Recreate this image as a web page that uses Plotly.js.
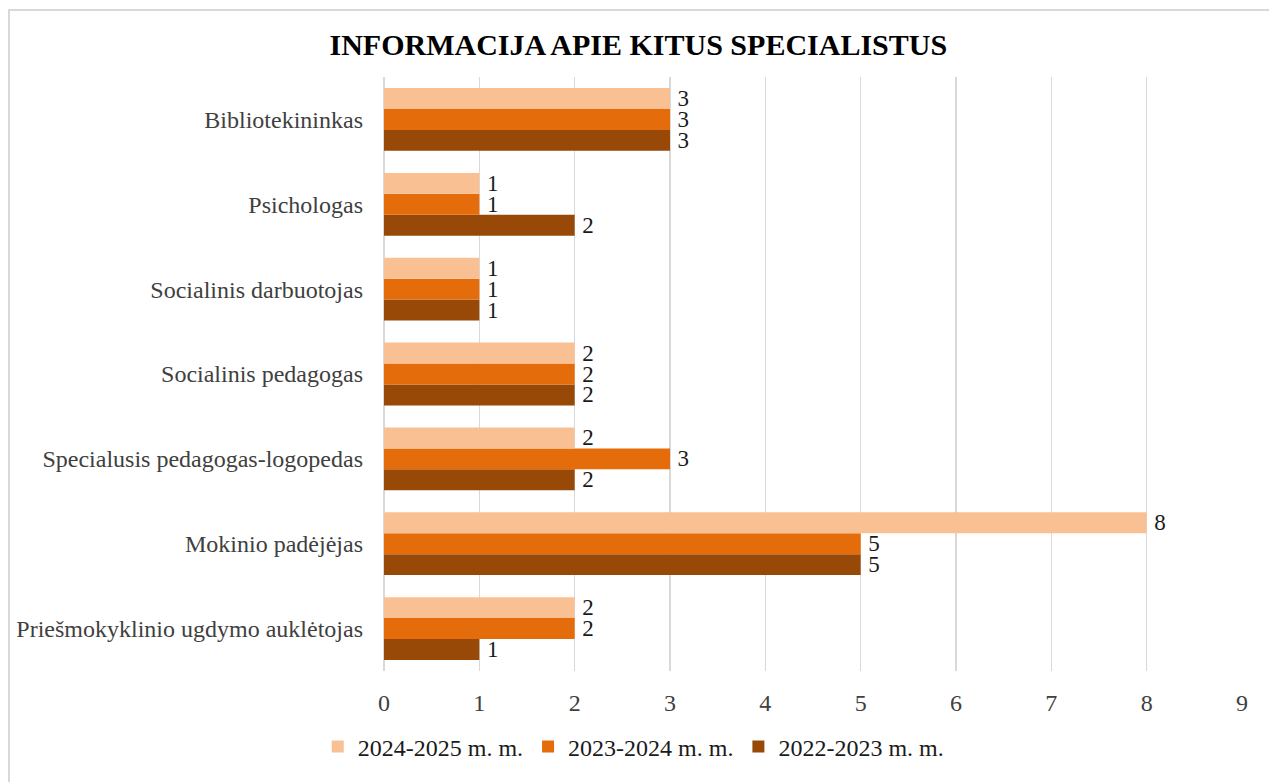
<!DOCTYPE html>
<html>
<head>
<meta charset="utf-8">
<script src="https://cdn.plot.ly/plotly-3.0.1.min.js"></script>
<style>
html,body{margin:0;padding:0;background:#fff;}
#chart{position:absolute;left:0;top:0;width:1269px;height:782px;}
#frame{position:absolute;left:8px;top:9px;width:1261px;height:773px;border-top:2px solid #d9d9d9;border-left:2px solid #d9d9d9;pointer-events:none;}
</style>
</head>
<body>
<div id="chart"></div>
<div id="frame"></div>
<script>
const categories = [
  "Bibliotekininkas",
  "Psichologas",
  "Socialinis darbuotojas",
  "Socialinis pedagogas",
  "Specialusis pedagogas-logopedas",
  "Mokinio padėjėjas",
  "Priešmokyklinio ugdymo auklėtojas"
];
const seriesNames = ["2024-2025 m. m.", "2023-2024 m. m.", "2022-2023 m. m."];
const values2024 = [3, 1, 1, 2, 2, 8, 2];
const values2023 = [3, 1, 1, 2, 3, 5, 2];
const values2022 = [3, 2, 1, 2, 2, 5, 1];
const xTicks = [0, 1, 2, 3, 4, 5, 6, 7, 8, 9];
const colors = ["#F9C193", "#E46C0A", "#984807"];

const font = "Liberation Serif, Times New Roman, serif";
function mk(name, vals, color) {
  const tf = {family: font, size: 23, color: "#1a1a1a"};
  return {
    type: "bar", orientation: "h", name: name,
    x: vals, y: categories,
    marker: {color: color},
    text: vals.map(String), texttemplate: "\u2009%{text}", textposition: "outside", cliponaxis: false,
    constraintext: "none",
    textfont: tf, outsidetextfont: tf,
    hoverinfo: "x+y+name"
  };
}
const data = [
  mk(seriesNames[2], values2022, colors[2]),
  mk(seriesNames[1], values2023, colors[1]),
  mk(seriesNames[0], values2024, colors[0])
];
const layout = {
  width: 1269, height: 782,
  margin: {l: 384, r: 27, t: 77, b: 111},
  paper_bgcolor: "rgba(0,0,0,0)", plot_bgcolor: "rgba(0,0,0,0)",
  font: {family: font, size: 24, color: "#000"},
  title: {text: "<b>INFORMACIJA APIE KITUS SPECIALISTUS</b>", font: {family: font, size: 30, color: "#000"},
          x: 0.503, xref: "container", y: 1 - 44/782, yref: "container", yanchor: "middle"},
  barmode: "group", bargap: 0.26, bargroupgap: 0,
  xaxis: {range: [0, 9], tickvals: xTicks, ticktext: xTicks.map(String), showgrid: true, gridcolor: "#d9d9d9", gridwidth: 1.5,
          zeroline: true, zerolinecolor: "#d9d9d9", zerolinewidth: 1.5, showline: false, ticks: "",
          ticklabelstandoff: 15, tickfont: {family: font, size: 24, color: "#404040"}, fixedrange: true},
  yaxis: {type: "category", categoryorder: "array", categoryarray: categories.slice().reverse(),
          showgrid: false, zeroline: false, showline: false, ticks: "", ticklabelstandoff: 20,
          tickfont: {family: font, size: 24, color: "#404040"}, fixedrange: true},
  showlegend: true,
  legend: {orientation: "h", traceorder: "reversed", xref: "container", x: 0.499, xanchor: "center",
           yref: "container", y: 1 - 747/782, yanchor: "middle", font: {family: font, size: 24, color: "#1a1a1a"},
           itemwidth: 30}
};
Plotly.newPlot("chart", data, layout, {displayModeBar: false, staticPlot: true});
</script>
</body>
</html>
